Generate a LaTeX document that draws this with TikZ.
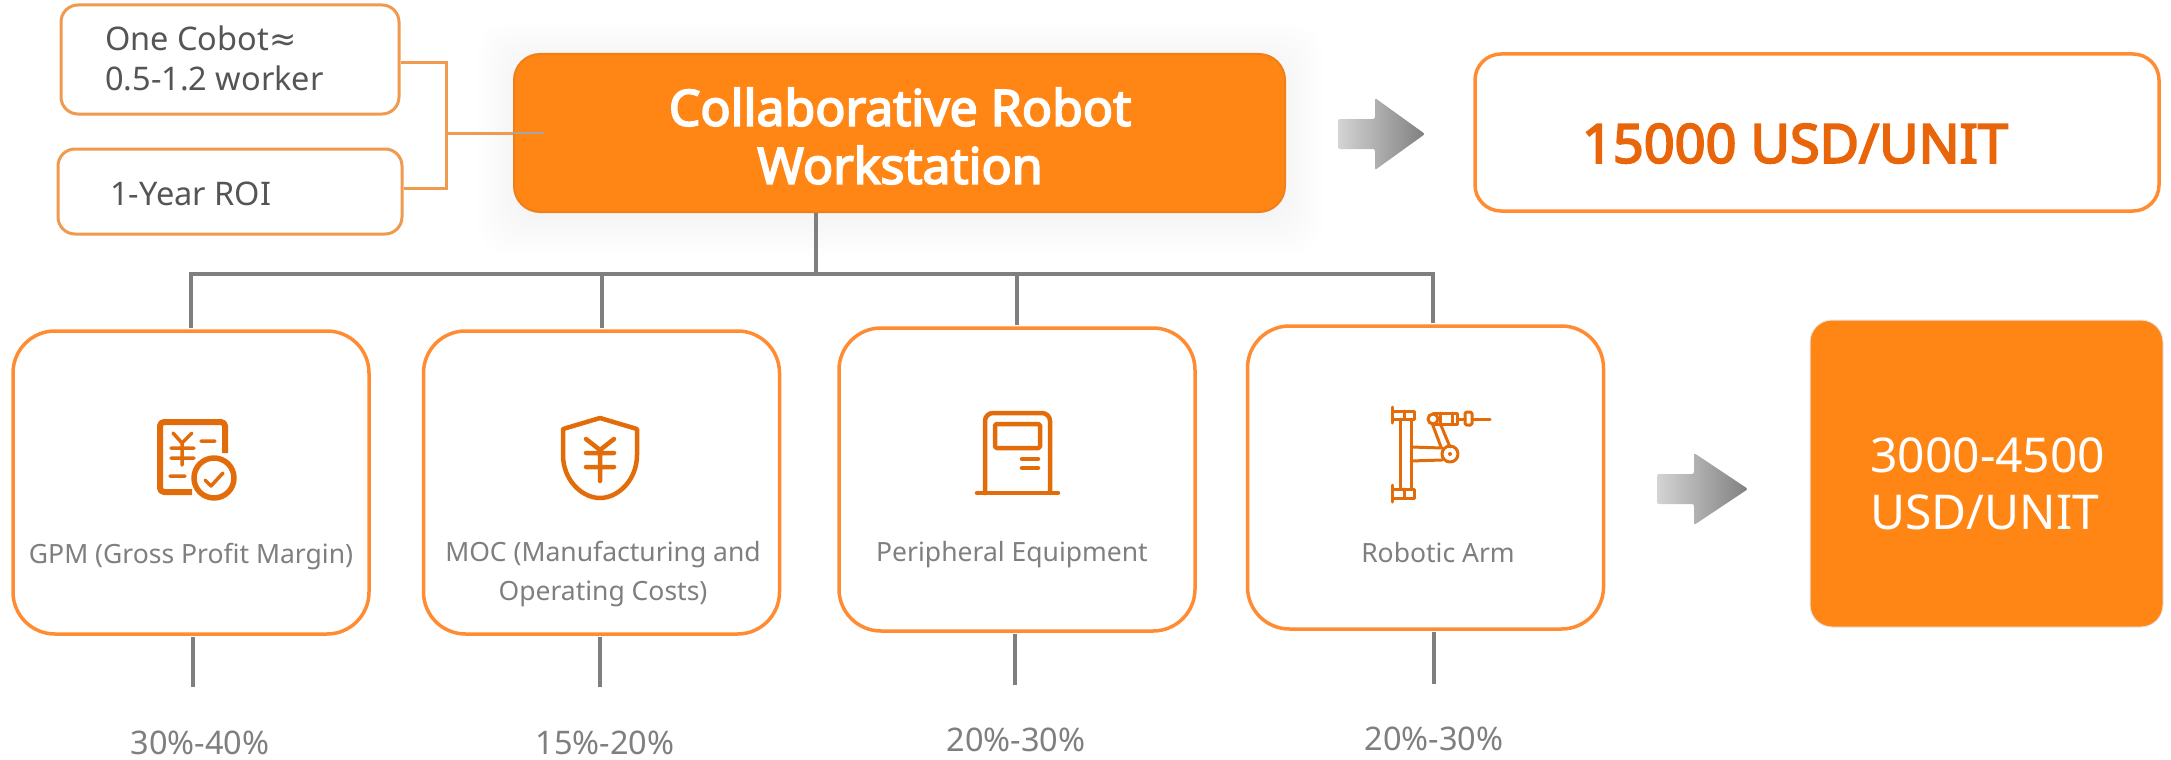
\documentclass[tikz,border=0pt]{standalone}
\usepackage{fontspec}
\setmainfont{Noto Sans}
\newfontfamily\heavyfont{Noto Sans}[FakeBold=3.5]
\newfontfamily\symbolfont{DejaVu Sans}
\usetikzlibrary{positioning}
\definecolor{boxorange}{HTML}{FF8C33}
\definecolor{mainorange}{HTML}{FF8614}
\definecolor{noteorange}{HTML}{F09A50}
\definecolor{iconorange}{HTML}{E36C0A}
\definecolor{treegray}{HTML}{7F7F7F}
\definecolor{notegray}{HTML}{555555}
\definecolor{pricered}{HTML}{E8650A}
\tikzset{
notebox/.style={draw=noteorange,line width=3pt,rounded corners=17pt,fill=white,inner sep=0pt},
notetext/.style={anchor=west,inner sep=0pt,text=notegray,align=left,font=\fontsize{32.5}{40}\selectfont},
costbox/.style={draw=boxorange,line width=3.5pt,rounded corners=42pt,fill=white,minimum width=356pt,minimum height=303pt,inner sep=0pt},
treeline/.style={draw=treegray,line width=4pt},
noteline/.style={draw=noteorange,line width=3pt},
costlabel/.style={text=treegray,align=center,inner sep=0pt,font=\fontsize{26.5}{39}\selectfont},
pctlabel/.style={text=treegray,inner sep=0pt,font=\fontsize{32.5}{36}\selectfont},
iconline/.style={draw=iconorange,line width=4.5pt,line cap=round,line join=round},
armline/.style={draw=iconorange,line width=3pt,line cap=round,line join=round},
grayarrow/.style={left color=black!17,right color=black!50,shading angle=90,rounded corners=2pt}
}
\begin{document}
\begin{tikzpicture}[x=1pt,y=-1pt]
\useasboundingbox (0,0) rectangle (2171,760);
% soft shadow of the main box
\foreach \s in {2,6,...,38}{
\fill[black,opacity=.004,rounded corners=34pt] (514-\s,54-\s+6) rectangle (1285+\s,212+\s+6);
}
\node[notebox,minimum width=338pt,minimum height=109pt] (cobot) at (230,59.5) {};
\node[notebox,minimum width=344pt,minimum height=85pt] (roi) at (230,191.5) {};
\node[notetext] (cobottext) at (105,58.5) {One Cobot{\symbolfont≈}\\0.5-1.2 worker};
\node[notetext] (roitext) at (110,193.5) {1-Year ROI};
\node[fill=mainorange,draw=boxorange!80!black!30!mainorange,line width=2pt,rounded corners=26pt,minimum width=771pt,minimum height=158pt,inner sep=0pt] (main) at (899.5,133) {};
\node[text=white,align=center,inner sep=0pt,font=\fontsize{50}{58}\heavyfont] (maintext) at (900,136) {Collaborative Robot\\Workstation};
\node[draw=boxorange,line width=3.5pt,rounded corners=26pt,minimum width=684pt,minimum height=157pt,inner sep=0pt] (price) at (1817,132.5) {};
\node[inner sep=0pt,text=pricered,font=\fontsize{54}{56}\heavyfont] (pricetext) at (1795,143.5) {15000 USD/UNIT};
\node[fill=mainorange,draw=black!10,line width=1pt,rounded corners=22pt,minimum width=353pt,minimum height=307pt,inner sep=0pt] (unit) at (1986.5,473.5) {};
\node[anchor=west,inner sep=0pt,text=white,align=left,font=\fontsize{48}{57}\selectfont] (unittext) at (1870,483.5) {3000-4500\\USD/UNIT};
\node[costbox] (gpm) at (191,482.5) {};
\node[costbox] (moc) at (601.5,482.5) {};
\node[costbox] (equip) at (1017,479.5) {};
\node[costbox] (arm) at (1425.5,477.5) {};
\node[costlabel] (gpmlabel) at (191,557) {GPM (Gross Profit Margin)};
\node[costlabel] (moclabel) at (603,574) {MOC (Manufacturing and\\Operating Costs)};
\node[costlabel] (equiplabel) at (1012,554.5) {Peripheral Equipment};
\node[costlabel] (armlabel) at (1438,553) {Robotic Arm};
\node[pctlabel] (gpmpct) at (200,742.5) {30\%-40\%};
\node[pctlabel] (mocpct) at (605,742.5) {15\%-20\%};
\node[pctlabel] (equippct) at (1016,740) {20\%-30\%};
\node[pctlabel] (armpct) at (1434,739) {20\%-30\%};
% notes to main box
\coordinate (notejoin) at (446,133);
\draw[noteline] ([yshift=-3.5pt]cobot.east) -| (notejoin);
\draw[noteline] (roi.east |- 0,188) -| (notejoin);
\draw[noteline] (notejoin) -- (main.west);
\draw[black!35,line width=2pt] (main.west) -- ++(31,0);
% tree
\coordinate (bus) at (815.5,274);
\draw[treeline] (main.south -| bus) -- (bus);
\draw[treeline,shorten <=1pt] (gpm.north) |- (bus);
\draw[treeline,shorten <=1pt] (moc.north) -- (moc.north |- bus);
\draw[treeline,shorten <=1pt] (equip.north) -- (equip.north |- bus);
\draw[treeline,shorten <=1pt] ([xshift=7.5pt]arm.north) |- (bus);
% stubs to percentages
\foreach \cost/\pct/\dx in {gpm/gpmpct/2,moc/mocpct/-1.5,equip/equippct/-2,arm/armpct/8.5}{
\draw[treeline,shorten <=1pt,shorten >=43pt] ([xshift=\dx pt]\cost.south) -- ([xshift=\dx pt]\cost.south |- \pct.north);
}
% gray arrows
\foreach \ax/\ay/\al in {1338/134/87,1657/489/91}{
\shade[grayarrow] (\ax,\ay-15) -- (\ax+37,\ay-15) -- (\ax+37,\ay-36) -- (\ax+\al,\ay) -- (\ax+37,\ay+36) -- (\ax+37,\ay+15) -- (\ax,\ay+15) -- cycle;
}
% receipt icon
\draw[iconline,line width=6pt,rounded corners=4pt,line cap=butt] (225,453) -- (225,422) -- (160,422) -- (160,492) -- (192,492);
\draw[iconline,line width=5.5pt] (214,478) circle (20);
\draw[iconline,line width=3.5pt] (173,433) -- (182,443) -- (192,433) (171,448) -- (194,448) (171,458) -- (194,458) (182,443) -- (182,465);
\draw[iconline,line width=3.5pt] (201,441) -- (215,441) (170,476) -- (185,476) (205,480) -- (211,486) -- (223,473);
% shield icon
\draw[iconline] (600,418) -- (637,429) -- (637,455) .. controls (637,480) and (618,498) .. (600,498) .. controls (582,498) and (563,480) .. (563,455) -- (563,429) -- cycle;
\draw[iconline] (586,439) -- (600,450) -- (614,439) (586,453) -- (614,453) (586,467) -- (614,467) (600,450) -- (600,481);
% kiosk icon
\draw[iconline,rounded corners=8pt] (985,493) -- (985,413) -- (1050,413) -- (1050,493);
\draw[iconline] (977,493) -- (1058,493) (1022,459) -- (1038,459) (1022,468) -- (1038,468);
\draw[iconline,rounded corners=1.5pt] (995,424) rectangle (1040,448);
% arm icon
\draw[armline] (1392,407) -- (1392,423) (1392,485) -- (1392,502);
\draw[armline] (1392,411) rectangle (1414,419) (1392,489) rectangle (1414,498) (1404,411) -- (1404,419) (1404,489) -- (1404,498);
\draw[armline] (1400,419) -- (1400,489) (1411,419) -- (1411,489);
\draw[armline] (1411,447) -- (1442,448) (1411,461) -- (1442,460);
\draw[armline] (1450,454) circle (8);
\fill[iconorange] (1450,454) circle (2);
\draw[armline] (1441,447) -- (1432,423) (1450,447) -- (1440,423);
\draw[armline] (1433,419) circle (5);
\draw[armline] (1433,413) -- (1457,413) -- (1457,424) -- (1433,424);
\draw[armline] (1440,413) -- (1440,424) (1452,413) -- (1452,424) (1457,419) -- (1465,419);
\draw[armline,rounded corners=1.5pt] (1465,412) rectangle (1472,425);
\draw[armline] (1472,419) -- (1490,419);
\end{tikzpicture}
\end{document}
